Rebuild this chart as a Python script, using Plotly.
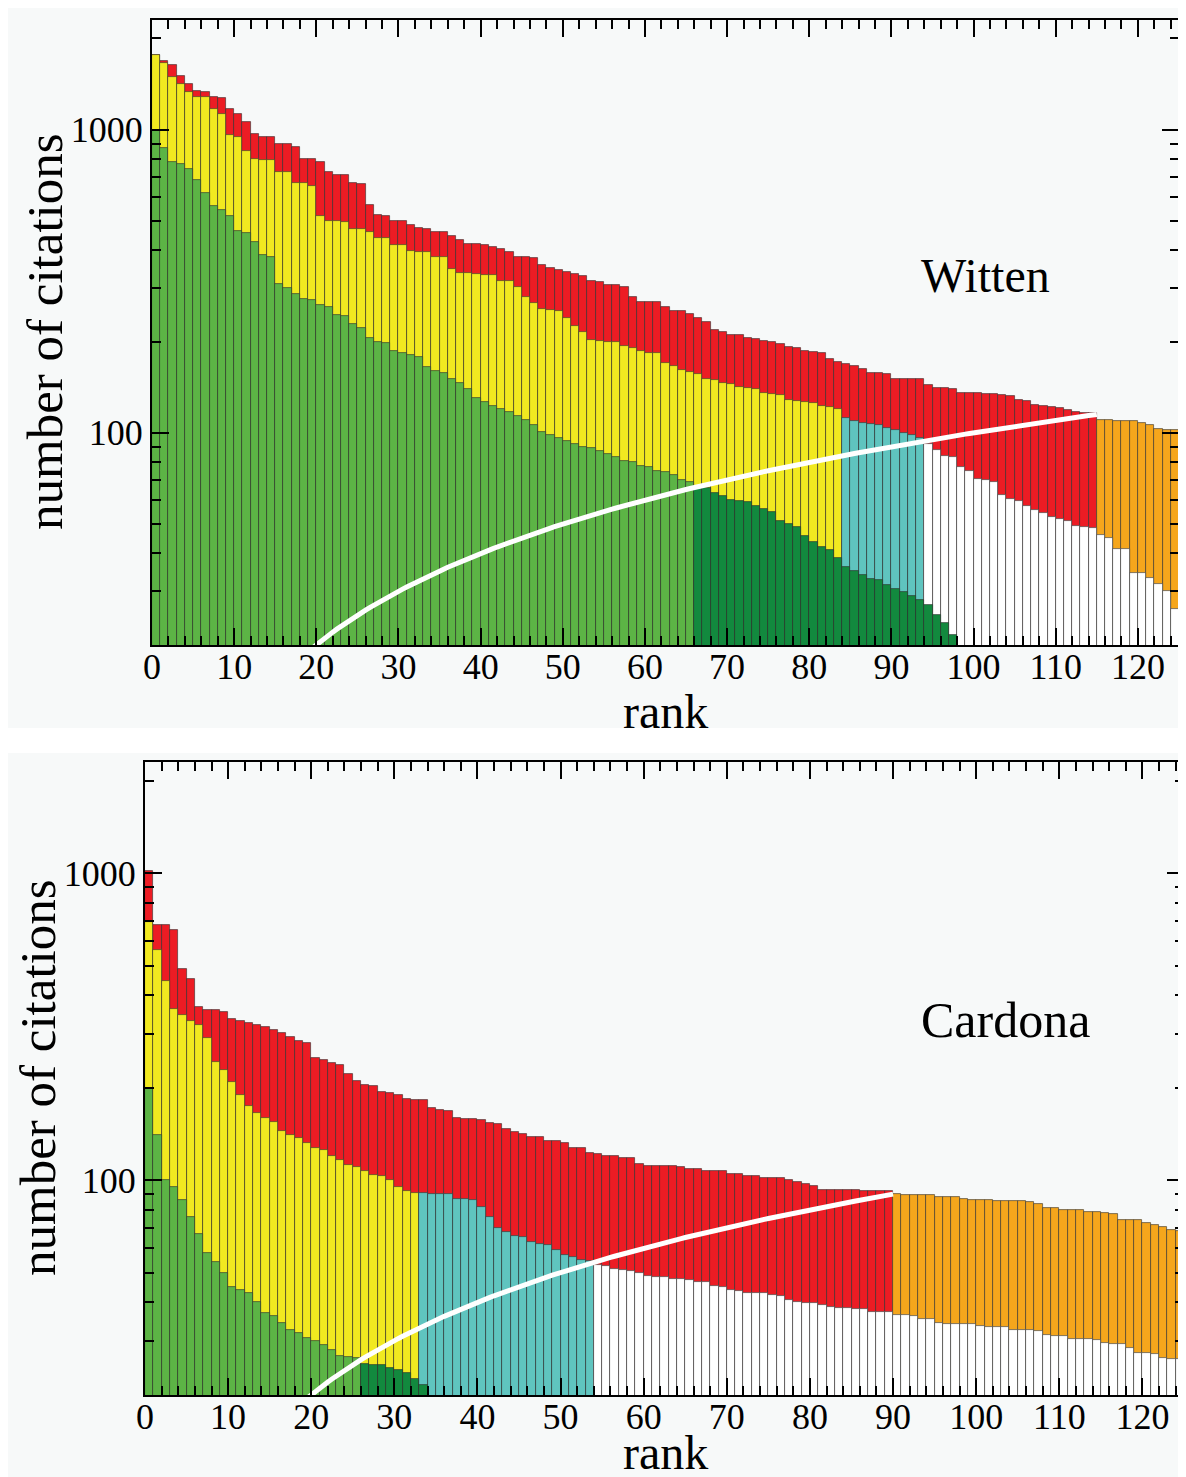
import numpy as np
import plotly.graph_objects as go

# ---------------- data ----------------
ranks = list(range(1, 126))

witten_total = [
    1760, 1680, 1640, 1500, 1420, 1340, 1330, 1280, 1275, 1170,
    1130, 1060, 965, 946, 944, 900, 898, 878, 800, 798,
    781, 724, 711, 709, 665, 661, 566, 522, 520, 500,
    499, 485, 473, 471, 461, 459, 445, 434, 420, 419,
    418, 411, 403, 396, 381, 380, 378, 358, 349, 345,
    339, 334, 330, 316, 315, 308, 307, 302, 281, 271,
    271, 270, 261, 253, 252, 247, 239, 232, 219, 215,
    211, 210, 205, 204, 201, 200, 196, 192, 191, 186,
    185, 184, 175, 171, 169, 166, 162, 157, 157, 156,
    151, 151, 150, 150, 144, 141, 141, 139, 135, 135,
    135, 134, 134, 133, 132, 128, 127, 124, 123, 122,
    121, 119, 117, 116, 116, 110, 110, 109, 109, 109,
    108, 106, 103, 102, 102]

witten_middle = [
    1760, 1660, 1496, 1419, 1334, 1281, 1281, 1167, 1125, 963,
    949, 850, 800, 796, 796, 725, 725, 665, 665, 654,
    519, 499, 499, 496, 470, 470, 459, 438, 438, 418,
    418, 399, 395, 395, 381, 380, 347, 337, 337, 335,
    331, 331, 318, 316, 302, 280, 268, 257, 255, 253,
    240, 225, 215, 203, 201, 200, 199, 193, 191, 186,
    184, 183, 170, 166, 161, 159, 156, 151, 149, 146,
    145, 142, 141, 140, 135, 134, 133, 128, 127, 126,
    125, 123, 122, 120, 112, 109, 108, 107, 106, 104,
    102, 100, 98, 96, 92, 88, 84, 83, 77, 75,
    70.5, 70, 69, 62.5, 60.5, 59.5, 57.5, 55.5, 54.5, 52.7,
    52, 51, 49.2, 49, 48.5, 46, 45, 41.5, 41.5, 34.4,
    34.4, 33.2, 31.6, 30, 26.2]

witten_inner = [
    1000, 870, 780, 770, 740, 680, 620, 560, 545, 520,
    465, 455, 425, 385, 380, 310, 300, 288, 277, 274,
    265, 260, 245, 242, 228, 222, 205, 200, 198, 186,
    183, 181, 178, 165, 160, 157, 150, 146, 139, 130,
    126, 123, 120, 117, 114, 110, 106, 101, 98, 96,
    94, 92, 90, 89, 87, 85, 83, 81, 80, 78,
    77, 75, 74, 72.5, 70, 69, 67, 66, 63.5, 62,
    60, 59.5, 59, 57.5, 56, 55, 51, 50, 49, 45.5,
    43.5, 42, 41, 38.5, 36, 35, 34, 33, 32.7, 31.5,
    30.5, 29.8, 29, 28, 27, 25, 23.6, 21.5] + [None] * 27

cardona_total = [
    1015, 679, 679, 654, 487, 451, 366, 357, 357, 352,
    336, 331, 325, 320, 315, 308, 301, 292, 283, 279,
    250, 247, 240, 238, 222, 211, 204, 203, 194, 192,
    189, 184, 182, 182, 172, 169, 168, 159, 158, 158,
    157, 154, 152, 147, 144, 141, 138, 138, 134, 134,
    132, 127, 127, 123, 122, 120, 120, 118, 118, 113,
    111, 111, 111, 111, 110, 109, 109, 107.4, 107.3, 107.2,
    104.7, 104.5, 103, 103, 101.6, 101.5, 101.4, 100, 98.5, 97,
    95.5, 93, 92.8, 92.7, 92.7, 92.6, 92.5, 92.5, 92.4, 92.3,
    89.8, 89.6, 89.4, 89.3, 89.2, 88.2, 88.1, 88, 87.1, 86.3,
    86.2, 86.1, 85.8, 85.7, 85.3, 85.2, 85.1, 83.4, 81.4, 81.3,
    80.1, 80, 79.9, 78.8, 78.7, 77.9, 77.8, 74.3, 74.2, 74.1,
    72.6, 71.6, 70.2, 68.6, 68.5]

cardona_middle = [
    695, 560, 444, 360, 346, 331, 320, 290, 242, 228,
    208, 190, 175, 165, 159, 155, 145, 140, 137, 132,
    127, 125, 120, 116, 112, 110, 107, 104, 103, 100,
    95, 92, 91, 90.5, 90, 90, 90, 87, 87, 86,
    82, 76, 70, 68, 66, 65.5, 63, 62, 61.5, 59,
    57, 56, 55, 54.5, 53, 52.5, 51.5, 51, 50.5, 49.7,
    48.7, 48.5, 48.3, 47.6, 47.5, 47.3, 46.6, 46.4, 45.3, 44.7,
    43.8, 43.5, 43, 42.9, 42.8, 42.1, 42, 40.7, 40, 39.8,
    39.7, 39.1, 38.5, 38.3, 38.2, 38.1, 38, 37.3, 37.2, 37.1,
    36.4, 36.3, 36.2, 35.4, 35.2, 34.2, 34.1, 34.1, 34, 34,
    33.4, 33.3, 33.3, 33.2, 32.5, 32.4, 32.4, 32.3, 31.2, 31.1,
    31, 30.4, 30.3, 30.3, 30.2, 29.4, 29.3, 29.2, 28.3, 27.4,
    27.3, 27.2, 26.3, 26.2, 26.1]

cardona_inner = [
    200, 140, 100, 95, 86, 76, 67, 58, 54, 50,
    45, 44, 43, 40, 37, 36, 34.2, 32.5, 31.8, 30.6,
    30, 29, 28, 26.8, 26.5, 26.3, 25.2, 25, 25, 24.5,
    24, 23.5, 22.5, 21.5] + [None] * 91

# rank limits of the colour zones
witten_h, witten_yellow_end, witten_cyan_end, witten_green_end = 115, 84, 94, 66
cardona_h, cardona_yellow_end, cardona_cyan_end, cardona_green_end = 90, 33, 54, 26

x_tick_vals = [0, 10, 20, 30, 40, 50, 60, 70, 80, 90, 100, 110, 120]
y_tick_vals = [100, 1000]
y_tick_text = ["100", "1000"]
y_minor_vals = [20, 30, 40, 50, 60, 70, 80, 90, 200, 300, 400, 500, 600, 700, 800, 900, 2000]

# ---------------- style ----------------
W, H = 1178, 1469          # page body margin (8 px) completes the 1186 x 1477 view
OFF = 8
RED = "#ec1c24"
ORANGE = "#f5a61c"
YELLOW = "#f1e920"
CYAN = "#5fc4bf"
WHITE = "#ffffff"
LGREEN = "#5cb445"
DGREEN = "#12893e"
BG = "#f7f9f9"
FONT = "Liberation Serif"


def px(p):
    return (p - OFF) / W


def py(p):
    return 1 - (p - OFF) / H


fig = go.Figure()


def add_panel(xa, ya, total, middle, inner, h, yel_end, cyan_end, green_end):
    xs = [r - 0.5 for r in ranks]
    tot_c = [RED if r <= h else ORANGE for r in ranks]
    mid_c = [YELLOW if r <= yel_end else (CYAN if r <= cyan_end else WHITE) for r in ranks]
    inn_c = [LGREEN if r <= green_end else DGREEN for r in ranks]
    for vals, cols in ((total, tot_c), (middle, mid_c), (inner, inn_c)):
        fig.add_trace(go.Bar(
            x=xs, y=vals, width=1,
            marker=dict(color=cols, line=dict(color="rgba(45,45,45,0.75)", width=0.8)),
            xaxis=xa, yaxis=ya, showlegend=False, hoverinfo="skip"))
    lx = np.arange(19, h + 0.001, 0.5)
    fig.add_trace(go.Scatter(
        x=lx, y=lx, mode="lines", line=dict(color="white", width=5),
        xaxis=xa, yaxis=ya, showlegend=False, hoverinfo="skip"))


add_panel("x", "y", witten_total, witten_middle, witten_inner,
          witten_h, witten_yellow_end, witten_cyan_end, witten_green_end)
add_panel("x2", "y2", cardona_total, cardona_middle, cardona_inner,
          cardona_h, cardona_yellow_end, cardona_cyan_end, cardona_green_end)

xbase = dict(
    range=[0, 125], tickmode="array", tickvals=x_tick_vals,
    ticks="inside", ticklen=17, tickwidth=1.8, tickcolor="black",
    showline=True, linecolor="black", linewidth=2, mirror="allticks",
    showgrid=False, zeroline=False, automargin=False, ticklabelstandoff=-11,
    tickfont=dict(family=FONT, size=36, color="black"),
    minor=dict(dtick=2, tick0=0, ticks="inside", ticklen=9, tickwidth=1.5,
               tickcolor="black", showgrid=False),
)
ybase = dict(
    type="log", range=[1.30, 3.362], tickmode="array",
    tickvals=y_tick_vals, ticktext=y_tick_text,
    ticks="inside", ticklen=17, tickwidth=1.8, tickcolor="black",
    showline=True, linecolor="black", linewidth=2, mirror="allticks",
    showgrid=False, zeroline=False, automargin=False,
    tickfont=dict(family=FONT, size=36, color="black"),
    minor=dict(tickmode="array", tickvals=y_minor_vals, ticks="inside", ticklen=9,
               tickwidth=1.5, tickcolor="black", showgrid=False),
)

ann_common = dict(xref="paper", yref="paper", showarrow=False,
                  xanchor="center", yanchor="middle")

fig.update_layout(
    width=W, height=H,
    margin=dict(l=0, r=0, t=0, b=0, autoexpand=False),
    paper_bgcolor="white", plot_bgcolor=BG,
    barmode="overlay", bargap=0,
    xaxis=dict(xbase, domain=[px(152), px(1179)], anchor="y"),
    yaxis=dict(ybase, domain=[py(645), py(20)], anchor="x"),
    xaxis2=dict(xbase, domain=[px(145), px(1184)], anchor="y2"),
    yaxis2=dict(ybase, domain=[py(1395), py(762)], anchor="x2"),
    shapes=[
        dict(type="rect", xref="paper", yref="paper", x0=0, x1=1, y0=py(728), y1=1,
             fillcolor=BG, line=dict(width=0), layer="below"),
        dict(type="rect", xref="paper", yref="paper", x0=0, x1=1, y0=0, y1=py(753),
             fillcolor=BG, line=dict(width=0), layer="below"),
    ],
    annotations=[
        dict(ann_common, text="Witten", x=px(985), y=py(275),
             font=dict(family=FONT, size=48, color="black")),
        dict(ann_common, text="Cardona", x=px(1005), y=py(1020),
             font=dict(family=FONT, size=50, color="black")),
        dict(ann_common, text="number of citations", x=px(45), y=py(332), textangle=-90,
             font=dict(family=FONT, size=51, color="black")),
        dict(ann_common, text="number of citations", x=px(38), y=py(1078), textangle=-90,
             font=dict(family=FONT, size=51, color="black")),
        dict(ann_common, text="rank", x=px(665), y=py(712),
             font=dict(family=FONT, size=48, color="black")),
        dict(ann_common, text="rank", x=px(665), y=py(1452),
             font=dict(family=FONT, size=48, color="black")),
    ],
)

fig.write_html("out.html")
